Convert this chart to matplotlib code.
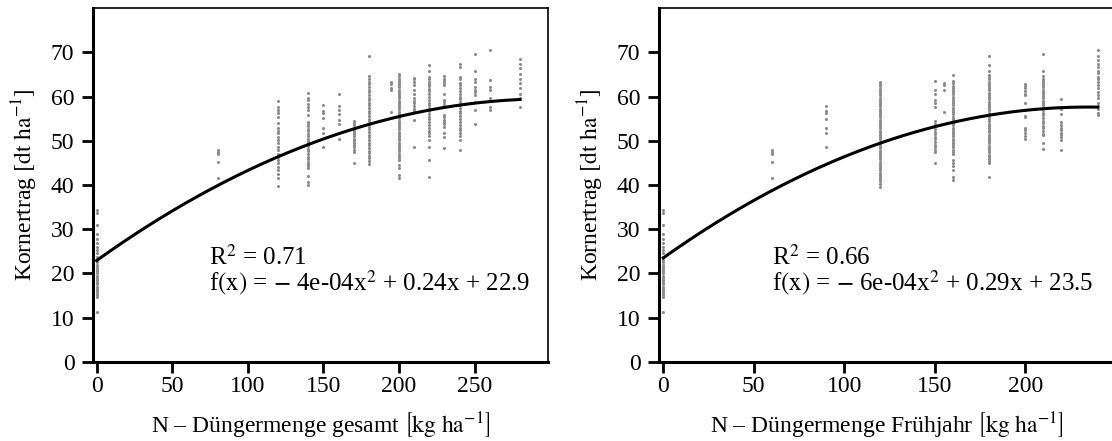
import matplotlib
matplotlib.use("Agg")
import matplotlib.pyplot as plt
import numpy as np

plt.rcParams['font.family'] = ['Liberation Serif', 'DejaVu Serif']
plt.rcParams['mathtext.fontset'] = 'stix'

# yield points, one list per fertiliser level
zero_col = [34.3, 33.7, 30.9, 29.0, 27.7, 26.9, 26.0, 25.3, 24.5, 23.8, 23.0,
            22.5, 22.0, 21.5, 21.0, 20.5, 20.0, 19.5, 19.0, 18.5, 18.0, 17.5,
            17.0, 16.5, 16.0, 15.5, 15.0, 14.7, 11.3]

total_x = [0, 80, 120, 140, 150, 160, 170, 180, 195, 200, 210, 220, 230, 240, 250, 260, 280]
total_y = [
    zero_col,
    [47.9, 47.4, 47.1, 45.1, 41.5],
    [59.0, 57.6, 56.9, 56.3, 55.4, 54.1, 52.8, 52.3, 51.7, 50.9, 50.2, 49.4,
     48.6, 47.9, 47.1, 46.4, 45.6, 44.9, 44.1, 43.4, 42.6, 41.5, 39.8],
    [60.9, 59.8, 59.2, 58.3, 57.7, 56.9, 55.8, 54.3, 53.8, 53.3, 52.7, 52.2,
     51.6, 51.0, 50.5, 50.0, 49.4, 48.8, 48.2, 47.6, 47.0, 46.4, 45.9, 45.3,
     44.8, 44.3, 43.8, 42.0, 40.7, 40.0],
    [58.0, 56.8, 56.4, 55.1, 52.8, 51.8, 48.6],
    [60.6, 57.9, 56.9, 56.0, 54.7, 53.8, 50.4],
    [54.5, 54.0, 53.5, 53.0, 52.5, 52.0, 51.5, 51.0, 50.5, 50.0, 49.5, 49.0,
     48.5, 48.0, 47.5, 44.9],
    [69.2, 64.6, 64.0, 63.4, 62.8, 62.2, 61.6, 61.0, 60.4, 59.8, 59.2, 58.6,
     58.0, 57.4, 56.8, 56.2, 55.6, 55.0, 54.4, 53.8, 53.2, 52.6, 52.0, 51.4,
     50.8, 50.2, 49.6, 49.0, 48.4, 47.8, 47.2, 46.6, 46.0, 45.4, 44.7],
    [63.4, 62.8, 62.0, 61.4, 56.6],
    [65.1, 64.6, 64.1, 63.6, 63.1, 62.6, 62.1, 61.6, 61.1, 60.6, 60.1, 59.6,
     59.1, 58.6, 58.1, 57.6, 57.1, 56.6, 56.1, 55.6, 55.1, 54.6, 54.1, 53.6,
     53.1, 52.6, 52.1, 51.6, 51.1, 50.6, 50.1, 49.6, 49.1, 48.6, 48.1, 47.6,
     47.1, 46.6, 46.1, 45.6, 44.5, 43.8, 42.2, 41.5],
    [64.3, 63.9, 63.3, 62.6, 61.6, 60.7, 59.6, 59.0, 58.5, 57.9, 57.3, 56.8,
     54.8, 48.5],
    [67.1, 65.8, 64.5, 64.0, 63.4, 62.9, 62.3, 61.8, 61.2, 60.5, 59.9, 59.3,
     58.6, 58.0, 57.4, 56.8, 56.1, 55.5, 54.9, 54.2, 53.6, 53.0, 52.3, 51.7,
     51.0, 50.2, 48.6, 45.6, 41.9],
    [64.6, 64.1, 63.6, 63.1, 62.6, 60.7, 59.2, 58.7, 58.2, 57.7, 55.8, 55.3,
     54.8, 54.3, 53.8, 53.2, 51.7, 50.9, 48.3],
    [67.5, 66.7, 64.5, 63.9, 63.2, 62.6, 62.0, 61.3, 60.7, 60.0, 59.4, 58.8,
     58.1, 57.5, 56.8, 56.2, 55.6, 54.9, 54.3, 53.6, 53.0, 52.4, 51.7, 51.1,
     50.2, 47.9],
    [69.6, 65.8, 63.9, 63.3, 62.2, 61.6, 61.1, 60.3, 58.8, 56.9, 53.8],
    [70.5, 63.7, 62.2, 61.5, 59.6, 57.7, 56.9],
    [68.6, 67.5, 66.4, 65.2, 64.1, 63.0, 61.9, 60.7, 59.6, 57.7],
]

spring_x = [0, 60, 90, 120, 150, 155, 160, 180, 200, 210, 220, 240]
spring_y = [
    zero_col,
    [47.9, 47.4, 47.1, 45.1, 41.5],
    [57.9, 56.7, 56.3, 54.9, 52.8, 51.7, 48.6],
    [63.3, 62.8, 62.3, 61.8, 61.3, 60.8, 60.3, 59.8, 59.3, 58.8, 58.3, 57.8,
     57.3, 56.8, 56.3, 55.8, 55.3, 54.8, 54.3, 53.8, 53.3, 52.8, 52.3, 51.8,
     51.3, 50.8, 50.3, 49.8, 49.3, 48.8, 48.3, 47.8, 47.3, 46.8, 46.3, 45.8,
     45.3, 44.8, 44.3, 43.8, 43.3, 42.8, 42.3, 41.8, 41.3, 40.8, 40.2, 39.6],
    [63.6, 61.6, 60.6, 59.2, 58.6, 57.6, 54.5, 53.9, 53.3, 52.7, 52.1, 51.5,
     50.9, 50.3, 49.7, 49.1, 48.5, 48.0, 47.5, 44.9],
    [63.2, 62.6, 61.5, 56.6],
    [64.9, 63.6, 63.0, 62.5, 62.0, 61.5, 61.0, 60.5, 60.0, 59.5, 59.0, 58.5,
     58.0, 57.5, 57.0, 56.5, 56.0, 55.5, 55.0, 54.5, 54.0, 53.5, 53.0, 52.5,
     52.0, 51.5, 51.0, 50.5, 50.0, 49.5, 49.0, 48.5, 48.0, 47.5, 47.1, 45.6,
     45.0, 44.4, 43.4, 41.9, 41.1],
    [69.2, 67.1, 65.8, 64.9, 64.4, 63.9, 63.4, 62.9, 62.4, 61.9, 61.4, 60.9,
     60.4, 59.9, 59.4, 58.9, 58.4, 57.9, 57.4, 56.9, 56.4, 55.9, 55.4, 54.9,
     54.4, 53.9, 53.4, 52.9, 52.4, 51.9, 51.4, 50.9, 50.4, 49.9, 49.4, 48.9,
     48.4, 47.9, 47.4, 46.9, 46.4, 45.9, 45.4, 44.9, 41.9],
    [62.8, 62.4, 61.9, 61.3, 60.7, 60.3, 58.5, 56.9, 55.6, 55.3, 53.0, 52.4,
     51.8, 51.1, 50.5],
    [69.6, 65.8, 64.6, 64.1, 63.6, 63.1, 62.6, 62.1, 61.6, 61.1, 60.6, 60.1,
     59.6, 59.1, 58.6, 58.1, 57.0, 56.4, 55.8, 55.2, 54.6, 54.0, 53.4, 52.8,
     52.2, 51.6, 51.3, 49.4, 48.1],
    [59.4, 57.3, 56.0, 54.3, 53.6, 53.0, 52.4, 51.8, 51.3, 50.9, 50.2, 47.9],
    [70.5, 69.3, 68.3, 67.5, 66.6, 65.9, 65.3, 64.5, 63.9, 63.3, 62.6, 61.9,
     61.1, 60.4, 59.7, 58.6, 57.9, 57.1, 56.4, 55.8],
]

# quadratic fits (a, b, c) for a*x^2 + b*x + c
fit_total = (-4.1e-4, 0.245, 22.9)
fit_spring = (-6.2e-4, 0.291, 23.5)

r2_labels = [r'R$^2$ = 0.71', r'R$^2$ = 0.66']
fx_labels = [r'f$\left(\mathrm{x}\right)$ = $-$ 4e-04x$^2$ + 0.24x + 22.9',
             r'f$\left(\mathrm{x}\right)$ = $-$ 6e-04x$^2$ + 0.29x + 23.5']
xlabels = [r'N – Düngermenge gesamt $\left[\mathrm{kg\ ha}^{-1}\right]$',
           r'N – Düngermenge Frühjahr $\left[\mathrm{kg\ ha}^{-1}\right]$']
ylabel = r'Kornertrag $\left[\mathrm{dt\ ha}^{-1}\right]$'

fs = 17
fig = plt.figure(figsize=(11.12, 4.41), dpi=100)
ax1 = fig.add_axes([93.3 / 1112, 1 - 361.7 / 441, 455 / 1112, 353.4 / 441])
ax2 = fig.add_axes([659.3 / 1112, 1 - 361.7 / 441, 455 / 1112, 353.4 / 441])

panels = [
    (ax1, total_x, total_y, fit_total, (-2.2, 298.7), np.arange(0, 251, 50), 74),
    (ax2, spring_x, spring_y, fit_spring, (-2.2, 249.2), np.arange(0, 201, 50), 60),
]

for i, (ax, xs, ys, fit, xlim, xticks, tx) in enumerate(panels):
    for x, col in zip(xs, ys):
        ax.plot([x] * len(col), col, 'o', color='#8a8a8a', ms=2.2, mew=0,
                zorder=2)
    xx = np.linspace(0, max(xs), 200)
    ax.plot(xx, np.polyval(fit, xx), color='black', lw=2.2, zorder=3)

    ax.set_xlim(*xlim)
    ax.set_ylim(0, 80)
    ax.set_xticks(xticks)
    ax.set_yticks(np.arange(0, 71, 10))
    ax.tick_params(direction='out', length=7.6, width=2.0, labelsize=fs,
                   colors='black')
    ax.tick_params(axis='y', pad=6)
    ax.tick_params(axis='x', pad=3)
    for s in ['left', 'bottom']:
        ax.spines[s].set_linewidth(2.2)
    for s in ['top', 'right']:
        ax.spines[s].set_linewidth(1.2)

    ax.text(tx, 22.0, r2_labels[i], fontsize=18, ha='left', va='baseline')
    ax.text(tx, 16.0, fx_labels[i], fontsize=18, ha='left', va='baseline')

    ax.text(0.5, -0.18, xlabels[i], transform=ax.transAxes, fontsize=fs,
            ha='center', va='center')
    ax.text(-0.15, 0.5, ylabel, transform=ax.transAxes, fontsize=fs,
            ha='center', va='center', rotation=90)

fig.savefig('out.png', dpi=100)
